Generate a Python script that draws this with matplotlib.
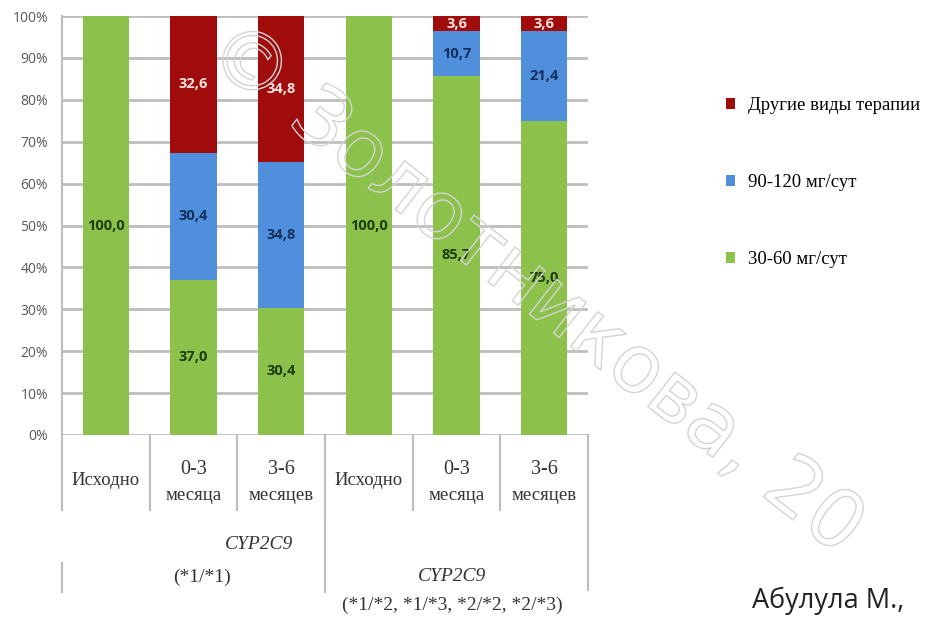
import numpy as np
import matplotlib.pyplot as plt
import matplotlib.patheffects as pe
from matplotlib.transforms import blended_transform_factory

# данные
periods = ["Исходно", "0-3\nмесяца", "3-6\nмесяцев", "Исходно", "0-3\nмесяца", "3-6\nмесяцев"]
low_dose = [100.0, 37.0, 30.4, 100.0, 85.7, 75.0]     # 30-60 мг/сут
high_dose = [0.0, 30.4, 34.8, 0.0, 10.7, 21.4]        # 90-120 мг/сут
other = [0.0, 32.6, 34.8, 0.0, 3.6, 3.6]              # другие виды терапии
series_names = ["30-60 мг/сут", "90-120 мг/сут", "Другие виды терапии"]
groups = [("CYP2C9", "(*1/*1)"), ("CYP2C9", "(*1/*2, *1/*3, *2/*2, *2/*3)")]

colors = ["#8cc24c", "#4f8fdc", "#a00c0c"]
label_colors = ["#1d3d0c", "#14305e", "#fbe3df"]

fig = plt.figure(figsize=(9.29, 6.17), dpi=100)
ax = fig.add_axes([0.0667, 0.295, 0.5663, 0.679])

x = np.arange(len(periods))
bottom = np.zeros(len(periods))
bars = []
for vals, c, lc, name in zip([low_dose, high_dose, other], colors, label_colors, series_names):
    vals = np.array(vals)
    b = ax.bar(x, vals, 0.53, bottom=bottom, color=c, label=name, zorder=3)
    for xi, v, b0 in zip(x, vals, bottom):
        if v > 0:
            ax.text(xi, b0 + v / 2, f"{v:.1f}".replace(".", ","), ha="center", va="center",
                    color=lc, fontsize=10.5, fontweight="bold", family="Open Sans", zorder=4)
    bars.append(b)
    bottom = bottom + vals

ax.set_xlim(-0.5, len(periods) - 0.5)
ax.set_ylim(0, 100)
ax.set_yticks(np.arange(0, 101, 10))
ax.set_yticklabels([f"{t}%" for t in range(0, 101, 10)], fontsize=10, color="#595959",
                   family="Open Sans")
ax.yaxis.grid(True, color="#bdbdbd", linewidth=2, zorder=0)
ax.tick_params(axis="y", length=0, pad=10)
ax.tick_params(axis="x", length=0, labelbottom=False)
for s in ["top", "right", "bottom"]:
    ax.spines[s].set_visible(False)
ax.spines["left"].set_color("#bdbdbd")
ax.spines["left"].set_linewidth(1.5)

# подписи категорий в стиле Excel
tr = blended_transform_factory(ax.transData, ax.transAxes)
ax_h = 0.679 * 6.17 * 100
def yax(px):
    return -px / ax_h

for xi, lab in zip(x, periods):
    if "\n" in lab:
        top, bot = lab.split("\n")
        ax.text(xi, yax(35), top, transform=tr, ha="center", va="center",
                fontsize=14.5, family="Liberation Serif", color="#333333")
        ax.text(xi, yax(61), bot, transform=tr, ha="center", va="center",
                fontsize=13.5, family="Liberation Serif", color="#333333")
    else:
        ax.text(xi, yax(46), lab, transform=tr, ha="center", va="center",
                fontsize=13.5, family="Liberation Serif", color="#333333")

lk = dict(transform=tr, color="#bdbdbd", linewidth=1.5, clip_on=False)
for xb in [-0.5, 0.5, 1.5, 3.5, 4.5]:
    ax.plot([xb, xb], [0, yax(75)], **lk)
ax.plot([2.5, 2.5], [0, yax(88)], **lk)
ax.plot([2.5, 2.5], [0, yax(157)], **lk)
ax.plot([5.5, 5.5], [0, yax(155)], **lk)
ax.plot([-0.5, -0.5], [yax(128), yax(157)], **lk)

ax.text(1.75, yax(110), groups[0][0], transform=tr, ha="center", va="center",
        fontsize=14, style="italic", family="Liberation Serif", color="#333333")
ax.text(1.1, yax(142), groups[0][1], transform=tr, ha="center", va="center",
        fontsize=14, family="Liberation Serif", color="#333333")
ax.text(3.95, yax(142), groups[1][0], transform=tr, ha="center", va="center",
        fontsize=14, style="italic", family="Liberation Serif", color="#333333")
ax.text(3.95, yax(170), groups[1][1], transform=tr, ha="center", va="center",
        fontsize=14, family="Liberation Serif", color="#333333")

# легенда
handles = [bars[2], bars[1], bars[0]]
fig.legend(handles, [series_names[2], series_names[1], series_names[0]],
           loc="upper left", bbox_to_anchor=(0.763, 0.870), frameon=False,
           prop={"family": "Liberation Serif", "size": 13.5}, handlelength=0.5,
           handleheight=0.5, handletextpad=0.7, labelspacing=3.2)

fig.text(0.81, 0.004, "Абулула М.,", fontsize=19.5, family="Open Sans", color="#222222",
         ha="left", va="bottom")

# водяной знак (только контур)
fig.text(0.575, 0.53, "© Золотникова, 20", fontsize=58, family="DejaVu Sans",
         rotation=-38, ha="center", va="center", color="none",
         path_effects=[pe.Stroke(linewidth=1.0, foreground="#d4d4d4")], zorder=10)

fig.savefig("out.png", dpi=100)
